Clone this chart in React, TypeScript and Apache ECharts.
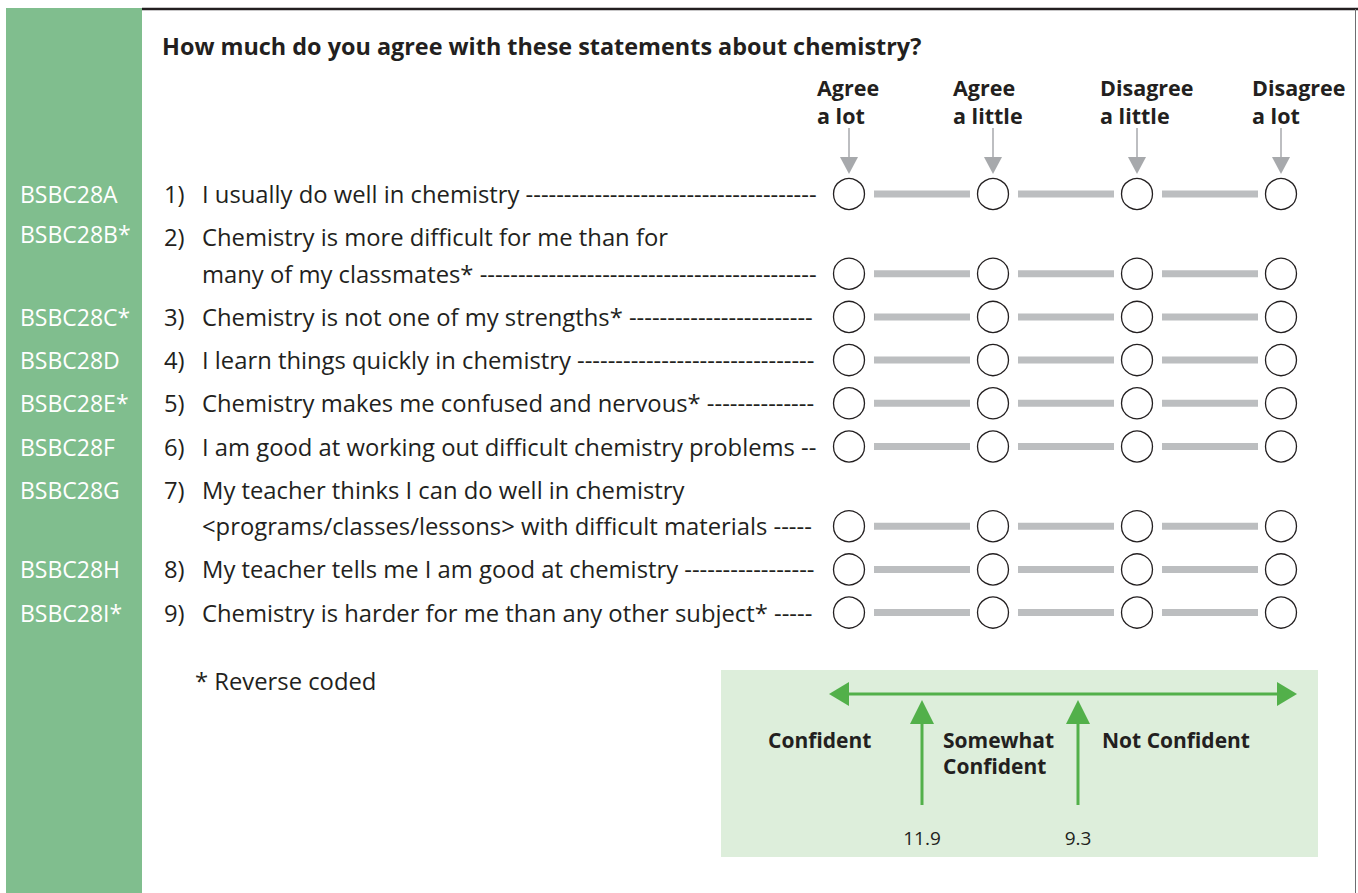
import React, { useEffect, useRef } from "react";
import * as echarts from "echarts";

const W = 1358;
const H = 893;

const title = "How much do you agree with these statements about chemistry?";
const responses = ["Agree\na lot", "Agree\na little", "Disagree\na little", "Disagree\na lot"];
const codes = ["BSBC28A", "BSBC28B*", "BSBC28C*", "BSBC28D", "BSBC28E*", "BSBC28F", "BSBC28G", "BSBC28H", "BSBC28I*"];
const statements: string[][] = [
  ["I usually do well in chemistry"],
  ["Chemistry is more difficult for me than for", "many of my classmates*"],
  ["Chemistry is not one of my strengths*"],
  ["I learn things quickly in chemistry"],
  ["Chemistry makes me confused and nervous*"],
  ["I am good at working out difficult chemistry problems"],
  ["My teacher thinks I can do well in chemistry", "<programs/classes/lessons> with difficult materials"],
  ["My teacher tells me I am good at chemistry"],
  ["Chemistry is harder for me than any other subject*"],
];
const footnote = "* Reverse coded";
const scaleLabels = ["Confident", "Somewhat\nConfident", "Not Confident"];
const cutScores = [11.9, 9.3];
const scaleRange = [5.65, 13.45];

// layout
const FONT = "'Open Sans'";
const TXT = "#231f20";
const GREEN_BAND = "#80be8e";
const LEGEND_BG = "#ddeedb";
const ARROW_GREEN = "#52b04a";
const BAR_GRAY = "#bcbec0";
const HEAD_GRAY = "#a7a9ac";
const FS = 23.8;
const FIRST_ROW_Y = 194;
const ROW_GAP = 43.2;
const LINE_GAP = 36.5;
const DASH_END = 818;
const TEXT_X = 202;
const headerLabelX = [817, 953, 1100, 1252];

function rowLayout() {
  const rows: { lines: number[]; circleY: number }[] = [];
  let y = FIRST_ROW_Y;
  statements.forEach((s) => {
    const lines = s.map((_, k) => y + k * LINE_GAP);
    rows.push({ lines, circleY: lines[lines.length - 1] });
    y = lines[lines.length - 1] + ROW_GAP;
  });
  return rows;
}

function measure(text: string, font: string) {
  const c = document.createElement("canvas").getContext("2d")!;
  c.font = font;
  return c.measureText(text).width;
}

export default function App() {
  const ref = useRef<HTMLDivElement>(null);
  useEffect(() => {
    document.body.style.margin = "0";
    const chart = echarts.init(ref.current!, undefined, { renderer: "svg" });
    const rows = rowLayout();
    const fontStr = `${FS}px ${FONT}`;
    const dashW = measure("-", fontStr);
    const spaceW = measure(" ", fontStr);

    const graphics: any[] = [];
    graphics.push({ type: "rect", shape: { x: 6, y: 8, width: 136, height: H - 8 }, style: { fill: GREEN_BAND }, z: 0 });
    graphics.push({ type: "line", shape: { x1: 142, y1: 9, x2: W, y2: 9 }, style: { stroke: "#231f20", lineWidth: 2.5 }, z: 0 });
    graphics.push({ type: "line", shape: { x1: 1355.5, y1: 9, x2: 1355.5, y2: H }, style: { stroke: "#6d6e71", lineWidth: 1 }, z: 0 });
    graphics.push({ type: "rect", shape: { x: 721, y: 670, width: 597, height: 187 }, style: { fill: LEGEND_BG }, z: 0 });
    graphics.push({
      type: "text", x: 162, y: 46, z: 10,
      style: { text: title, font: `bold 23.4px ${FONT}`, fill: TXT, verticalAlign: "middle" },
    });
    responses.forEach((r, j) => {
      graphics.push({
        type: "text", x: headerLabelX[j], y: 101, z: 10,
        style: { text: r, font: `bold 21.5px ${FONT}`, fill: TXT, verticalAlign: "middle", lineHeight: 28 },
      });
    });
    rows.forEach((row, i) => {
      graphics.push({
        type: "text", x: 20, y: row.lines[0] - (i === 1 ? 3 : 0), z: 10,
        style: { text: codes[i], font: `23px ${FONT}`, fill: "#ffffff", verticalAlign: "middle" },
      });
      graphics.push({
        type: "text", x: 164, y: row.lines[0], z: 10,
        style: { text: `${i + 1})`, font: fontStr, fill: TXT, verticalAlign: "middle" },
      });
      statements[i].forEach((line, k) => {
        let t = line;
        if (k === statements[i].length - 1) {
          const w = measure(line, fontStr);
          const avail = DASH_END - (TEXT_X + w + spaceW);
          const n = Math.max(1, Math.floor(avail / dashW));
          t = line + " " + "-".repeat(n);
        }
        graphics.push({
          type: "text", x: TEXT_X, y: row.lines[k], z: 10,
          style: { text: t, font: fontStr, fill: TXT, verticalAlign: "middle" },
        });
      });
    });
    graphics.push({
      type: "text", x: 195, y: 681, z: 10,
      style: { text: footnote, font: fontStr, fill: TXT, verticalAlign: "middle" },
    });
    const legX = [768, 943, 1102];
    scaleLabels.forEach((s, k) => {
      graphics.push({
        type: "text", x: legX[k], y: 740 - 13, z: 10,
        style: { text: s, font: `bold 21px ${FONT}`, fill: TXT, verticalAlign: "top", lineHeight: 26 },
      });
    });

    const circleData: number[][] = [];
    const barData: number[][] = [];
    rows.forEach((row) => {
      responses.forEach((_, j) => circleData.push([j, row.circleY]));
      for (let j = 0; j < responses.length - 1; j++) barData.push([j, row.circleY]);
    });

    chart.setOption({
      animation: false,
      grid: [
        { left: 777, right: W - 1353, top: 0, bottom: 0 },
        { left: 829, right: W - 1297, top: 0, bottom: 0 },
      ],
      xAxis: [
        { type: "category", data: responses, gridIndex: 0, show: false, boundaryGap: true },
        { type: "value", gridIndex: 1, min: scaleRange[0], max: scaleRange[1], inverse: true, show: false },
      ],
      yAxis: [
        { type: "value", gridIndex: 0, min: 0, max: H, inverse: true, show: false },
        { type: "value", gridIndex: 1, min: 0, max: H, inverse: true, show: false },
      ],
      graphic: { elements: graphics },
      series: [
        {
          type: "custom",
          xAxisIndex: 0, yAxisIndex: 0,
          data: barData,
          renderItem: (params: any, api: any) => {
            const j = api.value(0);
            const y = api.value(1);
            const p0 = api.coord([j, y]);
            const p1 = api.coord([j + 1, y]);
            return {
              type: "rect",
              shape: { x: p0[0] + 25, y: p0[1] - 3.5, width: p1[0] - p0[0] - 48, height: 7 },
              style: { fill: BAR_GRAY },
            };
          },
        },
        {
          type: "custom",
          xAxisIndex: 0, yAxisIndex: 0,
          data: responses.map((_, j) => [j, 128, 174]),
          renderItem: (params: any, api: any) => {
            const j = api.value(0);
            const a = api.coord([j, api.value(1)]);
            const b = api.coord([j, api.value(2)]);
            const x = a[0];
            return {
              type: "group",
              children: [
                { type: "line", shape: { x1: x, y1: a[1], x2: x, y2: b[1] - 14 }, style: { stroke: HEAD_GRAY, lineWidth: 1.5 } },
                { type: "polygon", shape: { points: [[x - 9, b[1] - 17], [x + 9, b[1] - 17], [x, b[1]]] }, style: { fill: HEAD_GRAY } },
              ],
            };
          },
        },
        {
          type: "scatter",
          xAxisIndex: 0, yAxisIndex: 0,
          data: circleData,
          symbol: "circle",
          symbolSize: 31,
          itemStyle: { color: "#ffffff", borderColor: "#231f20", borderWidth: 1.3, opacity: 1 },
          z: 5,
        },
        {
          type: "custom",
          xAxisIndex: 1, yAxisIndex: 1,
          data: [[scaleRange[1], scaleRange[0], 694]],
          z: 3,
          renderItem: (params: any, api: any) => {
            const a = api.coord([api.value(0), api.value(2)]);
            const b = api.coord([api.value(1), api.value(2)]);
            const y = a[1];
            return {
              type: "group",
              children: [
                { type: "line", shape: { x1: a[0] + 15, y1: y, x2: b[0] - 15, y2: y }, style: { stroke: ARROW_GREEN, lineWidth: 3 } },
                { type: "polygon", shape: { points: [[a[0], y], [a[0] + 20, y - 12], [a[0] + 20, y + 12]] }, style: { fill: ARROW_GREEN } },
                { type: "polygon", shape: { points: [[b[0], y], [b[0] - 20, y - 12], [b[0] - 20, y + 12]] }, style: { fill: ARROW_GREEN } },
              ],
            };
          },
        },
        {
          type: "custom",
          xAxisIndex: 1, yAxisIndex: 1,
          data: cutScores.map((v) => [v, 700, 805]),
          z: 3,
          renderItem: (params: any, api: any) => {
            const v = api.value(0);
            const a = api.coord([v, api.value(1)]);
            const b = api.coord([v, api.value(2)]);
            const x = a[0];
            return {
              type: "group",
              children: [
                { type: "line", shape: { x1: x, y1: a[1] + 20, x2: x, y2: b[1] }, style: { stroke: ARROW_GREEN, lineWidth: 3 } },
                { type: "polygon", shape: { points: [[x, a[1]], [x - 12, a[1] + 24], [x + 12, a[1] + 24]] }, style: { fill: ARROW_GREEN } },
                {
                  type: "text", x: x, y: 838,
                  style: { text: String(v), font: `19px ${FONT}`, fill: TXT, align: "center", verticalAlign: "middle" },
                },
              ],
            };
          },
        },
      ],
    });
    return () => chart.dispose();
  }, []);
  return <div ref={ref} style={{ width: W, height: H }} />;
}
